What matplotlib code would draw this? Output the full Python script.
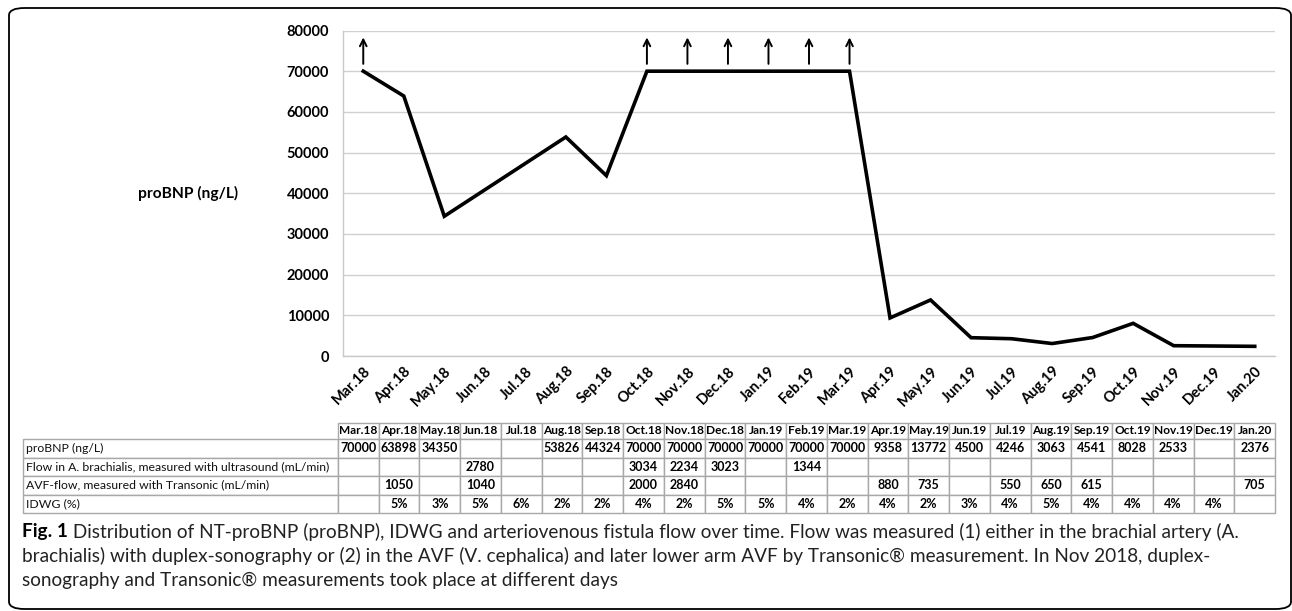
import numpy as np
import matplotlib
matplotlib.use("Agg")
import matplotlib.pyplot as plt
from matplotlib.patches import FancyBboxPatch

# ---------------- data ----------------
months = ["Mar.18", "Apr.18", "May.18", "Jun.18", "Jul.18", "Aug.18", "Sep.18",
          "Oct.18", "Nov.18", "Dec.18", "Jan.19", "Feb.19", "Mar.19", "Apr.19",
          "May.19", "Jun.19", "Jul.19", "Aug.19", "Sep.19", "Oct.19", "Nov.19",
          "Dec.19", "Jan.20"]
probnp = [70000, 63898, 34350, None, None, 53826, 44324, 70000, 70000, 70000,
          70000, 70000, 70000, 9358, 13772, 4500, 4246, 3063, 4541, 8028, 2533,
          None, 2376]
flow_brachialis = [None, None, None, 2780, None, None, None, 3034, 2234, 3023,
                   None, 1344, None, None, None, None, None, None, None, None,
                   None, None, None]
avf_flow = [None, 1050, None, 1040, None, None, None, 2000, 2840, None, None,
            None, None, 880, 735, None, 550, 650, 615, None, None, None, 705]
idwg = [None, "5%", "3%", "5%", "6%", "2%", "2%", "4%", "2%", "5%", "5%", "4%",
        "2%", "4%", "2%", "3%", "4%", "5%", "4%", "4%", "4%", "4%", None]
above_limit = ["Mar.18", "Oct.18", "Nov.18", "Dec.18", "Jan.19", "Feb.19", "Mar.19"]
row_labels = ["proBNP (ng/L)",
              "Flow in A. brachialis, measured with ultrasound (mL/min)",
              "AVF-flow, measured with Transonic (mL/min)",
              "IDWG (%)"]
ylabel = "proBNP (ng/L)"
caption_lines = [
    ("Fig. 1", " Distribution of NT-proBNP (proBNP), IDWG and arteriovenous fistula flow over time. Flow was measured (1) either in the brachial artery (A."),
    ("", "brachialis) with duplex-sonography or (2) in the AVF (V. cephalica) and later lower arm AVF by Transonic\u00ae measurement. In Nov 2018, duplex-"),
    ("", "sonography and Transonic\u00ae measurements took place at different days"),
]

# ---------------- figure ----------------
W, H = 1292, 611
fig = plt.figure(figsize=(W / 100, H / 100), dpi=100)
FONT = ["Lato", "DejaVu Sans"]

def fx(px):
    return px / W

def fy(py):
    return 1 - py / H

# page frame
frame = FancyBboxPatch((fx(9), fy(609)), fx(1291) - fx(9), fy(8) - fy(609),
                       boxstyle="round,pad=0,rounding_size=0.012",
                       transform=fig.transFigure, fill=False, ec="black",
                       lw=1.3, zorder=0)
fig.patches.append(frame)

ax_l, ax_r, ax_t, ax_b = 343, 1275, 30.5, 356
ax = fig.add_axes([fx(ax_l), fy(ax_b), fx(ax_r) - fx(ax_l), fy(ax_t) - fy(ax_b)])

x = np.arange(len(months))
y = np.array([np.nan if v is None else v for v in probnp], dtype=float)
m = ~np.isnan(y)
ax.plot(x[m], y[m], color="black", lw=2.6, solid_joinstyle="miter", zorder=3)

for mo in above_limit:
    i = months.index(mo)
    ax.annotate("", xy=(i, 78300), xytext=(i, 71800),
                arrowprops=dict(arrowstyle="->", color="black", lw=1.4,
                                mutation_scale=12, shrinkA=0, shrinkB=0),
                zorder=4)

ax.set_xlim(-0.5, len(months) - 0.5)
ax.set_ylim(0, 80000)
ax.set_yticks(np.arange(0, 80001, 10000))
ax.set_yticklabels([str(v) for v in range(0, 80001, 10000)],
                   fontfamily=FONT, fontweight="bold", fontsize=10.5)
ax.set_xticks(x)
ax.set_xticklabels(months, rotation=45, ha="right", rotation_mode="anchor",
                   fontfamily=FONT, fontweight="bold", fontsize=10.5)
ax.tick_params(axis="both", length=0)
ax.tick_params(axis="x", pad=6)
ax.tick_params(axis="y", pad=10)
ax.grid(axis="y", color="#d0d0d0", lw=1.0)
ax.set_axisbelow(True)
for s in ["top", "right"]:
    ax.spines[s].set_visible(False)
ax.spines["left"].set_color("#c8c8c8")
ax.spines["bottom"].set_color("#c8c8c8")
ax.spines["left"].set_linewidth(1.0)
ax.spines["bottom"].set_linewidth(1.0)

ax.set_ylabel(ylabel, rotation=0, ha="center", va="center",
              fontfamily=FONT, fontweight="bold", fontsize=11.2)
ax.yaxis.set_label_coords((188 - ax_l) / (ax_r - ax_l), 0.5)

# ---------------- data table ----------------
def fmt(v):
    return "" if v is None else str(v)

header = [""] + months
rows = [[row_labels[0]] + [fmt(v) for v in probnp],
        [row_labels[1]] + [fmt(v) for v in flow_brachialis],
        [row_labels[2]] + [fmt(v) for v in avf_flow],
        [row_labels[3]] + [fmt(v) for v in idwg]]

tab_l, tab_t, tab_b = 23, 423, 513
axw = ax_r - ax_l
axh = ax_b - ax_t
bbox = [(tab_l - ax_l) / axw, (ax_b - tab_b) / axh,
        (ax_r - tab_l) / axw, (tab_b - tab_t) / axh]
label_w = ax_l - 5 - tab_l
col_w = (ax_r - (ax_l - 5)) / len(months)
tbl = ax.table(cellText=rows, colLabels=header, cellLoc="center",
               colWidths=[label_w] + [col_w] * len(months),
               bbox=bbox)
tbl.auto_set_font_size(False)
row_h = [16] + [18.5] * 4
for (r, c), cell in tbl.get_celld().items():
    cell.set_edgecolor("#a8a8a8")
    cell.set_linewidth(1.0)
    cell.set_height(row_h[r])
    txt = cell.get_text()
    txt.set_fontfamily(FONT)
    txt.set_clip_on(False)
    if r == 0:
        txt.set_fontweight("bold")
        txt.set_fontsize(8.6)
        if c == 0:
            cell.visible_edges = "open"
    elif c == 0:
        txt.set_fontsize(8.8)
        txt.set_ha("left")
        txt.set_color("#111111")
        cell.PAD = 0.008
    else:
        txt.set_fontweight("bold")
        txt.set_fontsize(9.0)

# ---------------- caption ----------------
cap_y = [532, 556, 580]
CAP_FS = 13.7
for (bold, rest), yy in zip(caption_lines, cap_y):
    if bold:
        t = fig.text(fx(22), fy(yy), bold, fontfamily=FONT, fontweight="bold",
                     fontsize=CAP_FS, va="center", ha="left")
        fig.canvas.draw()
        bb = t.get_window_extent()
        fig.text(bb.x1 / W, fy(yy), rest, fontfamily=FONT, fontsize=CAP_FS,
                 va="center", ha="left", color="#222222")
    else:
        fig.text(fx(22), fy(yy), rest, fontfamily=FONT, fontsize=CAP_FS,
                 va="center", ha="left", color="#222222")

fig.savefig("out.png", dpi=100)
